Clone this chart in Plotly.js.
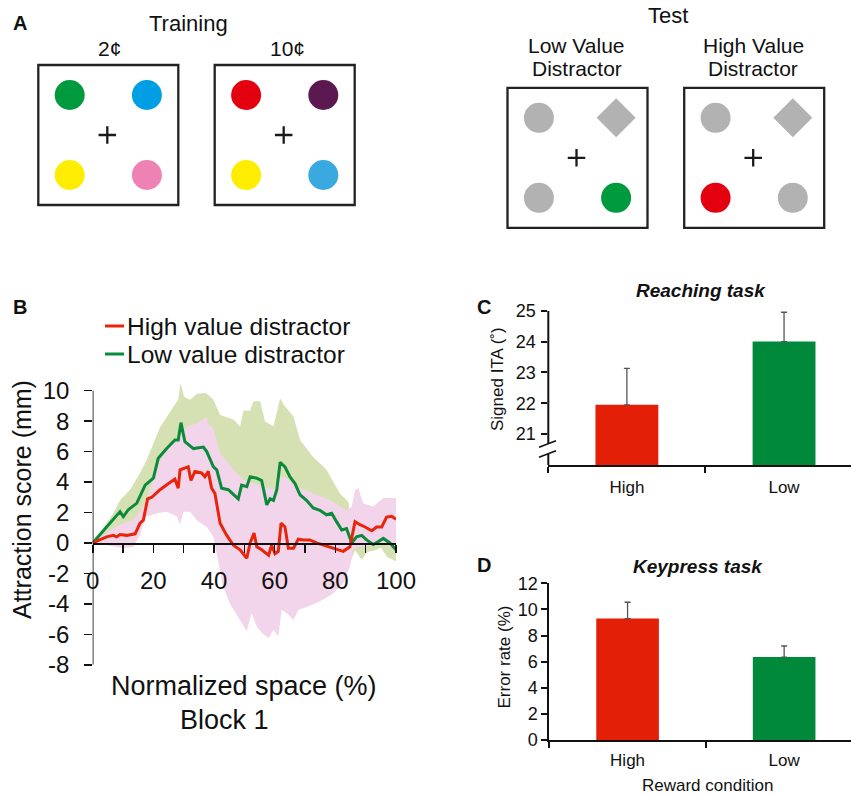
<!DOCTYPE html>
<html><head><meta charset="utf-8">
<script src="https://cdn.plot.ly/plotly-3.0.1.min.js"></script>
<style>html,body{margin:0;padding:0;background:#fff}#chart{width:851px;height:794px}</style>
</head><body><div id="chart"></div>
<script>
// ---------------- DATA ----------------
// Panel B: attraction score (mm) vs normalized space (%)
const highX = [0, 4.6, 6.8, 7.9, 9, 11.2, 14, 15.6, 16.7, 18.1, 19.5, 22.2, 25, 27.1, 28.2, 28.8, 31.5, 32.4, 33.7, 35.9, 37, 38.1, 39.2, 40.3, 42, 44.2, 46.4, 48.6, 50.8, 51.9, 53.2, 54.1, 55.7, 58, 59, 60.1, 61.2, 62.1, 63.4, 64.5, 66.2, 67.8, 69.5, 71.6, 73.8, 76, 78.2, 80.4, 82.6, 84.8, 86.5, 88.1, 89.8, 92, 93.6, 95.3, 96.9, 98.6, 100];
const highY = [0, 0.4, 0.5, 0.4, 0.55, 0.5, 0.6, 1.3, 1.5, 2.9, 3.0, 3.5, 3.9, 4.2, 3.6, 4.8, 5.0, 4.1, 4.7, 4.6, 4.35, 4.7, 3.6, 3.25, 1.3, 0.5, -0.15, -0.45, -1.0, 0, 0.65, -0.25, -0.45, -0.8, -0.15, -0.7, -0.55, 1.3, 1.05, -0.35, -0.35, 0.25, 0.2, 0.2, 0.0, -0.15, -0.25, -0.45, -0.55, -0.25, 1.4, 1.2, 1.05, 0.8, 1.05, 1.05, 1.7, 1.75, 1.55];
const lowX = [0, 9, 10.1, 11.8, 14.5, 17.3, 20, 21.6, 24.4, 27.1, 28.2, 29.1, 30.4, 33.2, 36.5, 37.6, 39.8, 40.9, 42.5, 44.7, 48, 49.1, 50.8, 51.9, 54.1, 55.7, 57.4, 58.5, 59.6, 60.7, 61.8, 63.4, 65, 66.7, 68.4, 70.5, 72.7, 74.9, 77.1, 78.8, 80.4, 82.1, 83.7, 85.4, 87, 88.7, 90.3, 92.5, 94.2, 95.8, 98, 100];
const lowY = [0, 2.06, 1.73, 2.2, 2.6, 3.8, 4.25, 5.56, 6.2, 6.76, 6.76, 7.9, 6.65, 6.2, 6.3, 6.0, 5.0, 4.8, 3.6, 3.5, 2.9, 3.8, 3.7, 4.35, 4.25, 4.1, 2.5, 2.9, 2.8, 3.5, 5.3, 5.0, 4.35, 3.9, 3.15, 2.8, 2.3, 2.15, 1.85, 1.95, 1.4, 0.85, 0.95, 0, 0.4, 0.5, 0.2, -0.1, 0.1, 0.3, 0, -0.45];
// Error bands
const lowUpX = [0, 6.8, 9, 12.3, 15.6, 17.8, 22.2, 24.4, 26.6, 28.2, 29, 30.1, 32.1, 34.3, 37.4, 39.8, 42, 46.4, 48.6, 49.7, 51.9, 53, 55.2, 56.8, 59.6, 61.8, 63.1, 66.2, 68.4, 72.7, 77.1, 81.5, 84.3, 84.6, 87, 91.4, 96.9, 100];
const lowUpY = [0, 1.95, 2.8, 3.5, 4.6, 5.45, 7.6, 8.3, 8.95, 9.4, 10.5, 9.6, 9.4, 9.8, 9.85, 9.4, 8.4, 8.1, 7.65, 8.7, 8.7, 9.3, 9.3, 8.0, 7.65, 9.5, 9.05, 8.3, 6.75, 5.65, 4.8, 3.25, 2.7, 2.15, 1.07, 0.9, 0.9, 0.9];
const lowLoX = [0, 5, 10, 15, 20, 25, 30, 35, 40, 45, 50, 55, 60, 65, 70, 75, 80, 85, 86.5, 88.7, 90.5, 93, 95, 97, 100];
const lowLoY = [0, 0.3, 0.8, 1.0, 2.5, 3.5, 4.5, 3.5, 2.0, 0.5, -0.5, 0, -0.5, 0.5, 0, -0.5, -0.8, -1.2, -0.5, -1.1, -0.6, -0.5, -0.3, -0.9, -1.2];
const highUpX = [0, 6.8, 10.1, 13.4, 16.7, 18.9, 22.2, 25.5, 28.8, 31, 34.3, 37.6, 38.1, 39.8, 42, 46.4, 49.7, 53, 56.3, 59.6, 61.8, 63.9, 67.3, 72.7, 78.2, 83.7, 85.4, 86.5, 87.6, 89.2, 92.5, 95.8, 100];
const highUpY = [0, 0.96, 1.3, 1.5, 2.4, 3.5, 5.45, 6.55, 7.0, 7.65, 7.85, 8.25, 7.85, 7.5, 5.9, 4.8, 4.15, 3.9, 3.7, 3.5, 4.35, 4.25, 3.7, 3.25, 2.8, 2.15, 2.4, 3.5, 3.6, 2.6, 2.4, 2.95, 2.95];
const highLoX = [0, 4.6, 10.1, 13.4, 15.6, 17.3, 21.1, 24.4, 27.7, 28.8, 29.9, 32.1, 34.3, 37.6, 39.8, 40.9, 43.1, 45.3, 48.6, 50.8, 52.4, 54.1, 55.7, 58, 59.6, 61.2, 62.3, 63.9, 66.2, 67.8, 70.5, 73.8, 77.1, 79.3, 82.6, 84.8, 85.9, 88.1, 92.5, 95.8, 97, 100];
const highLoY = [0, -0.13, -0.35, -0.25, 0.5, 1.7, 1.95, 2.05, 1.75, 1.2, 2.05, 2.05, 1.5, 1.05, 0.4, -0.7, -2.9, -4.0, -5.05, -5.8, -4.6, -5.5, -5.9, -6.25, -5.7, -6.15, -4.4, -4.6, -5.05, -4.4, -4.2, -3.95, -3.6, -3.3, -2.65, -1.55, -0.45, -0.25, -0.15, -0.1, -0.2, -0.3];
const bXTickVals = [0, 10, 20, 30, 40, 50, 60, 70, 80, 90, 100];
const bXTickText = ['0', '', '20', '', '40', '', '60', '', '80', '', '100'];
const bYTickVals = [10, 8, 6, 4, 2, 0, -2, -4, -6, -8];
const bYTickText = ['10', '8', '6', '4', '2', '0', '-2', '-4', '-6', '-8'];
const seriesNames = ['High value distractor', 'Low value distractor'];

// Panel C: reaching task
const conditions = ['High', 'Low'];
const reachITA = [21.95, 24.0];
const reachErr = [1.18, 0.95];
const reachTicks = [21, 22, 23, 24, 25];
// Panel D: keypress task
const keyErrorRate = [9.3, 6.35];
const keyErr = [1.25, 0.85];
const keyTicks = [0, 2, 4, 6, 8, 10, 12];

// Panel A: stimulus displays (TL, TR, BL, BR)
const displayLabels = ['2¢', '10¢', 'Low Value|Distractor', 'High Value|Distractor'];
const groupLabels = ['Training', 'Test'];
const stimColors = [
  ['#009a3e', '#009fe3', '#ffed00', '#ee82b4'],
  ['#e3000f', '#5c1951', '#ffed00', '#3aa9e0'],
  ['#b2b2b2', '#b2b2b2', '#b2b2b2', '#009a3e'],
  ['#b2b2b2', '#b2b2b2', '#e3000f', '#b2b2b2']
];
const stimSymbols = [
  ['circle', 'circle', 'circle', 'circle'],
  ['circle', 'circle', 'circle', 'circle'],
  ['circle', 'diamond', 'circle', 'circle'],
  ['circle', 'diamond', 'circle', 'circle']
];

// ---------------- LAYOUT HELPERS ----------------
const W = 851, H = 794;
const px = x => x / W, py = y => 1 - y / H;
const FONT = 'Liberation Sans, Arial, Helvetica, sans-serif';
const INK = '#111111';
const RED = '#e8250b', GREEN = '#0b8a3b';
const RED_BAR = '#e41f07', GREEN_BAR = '#00893a';
const PINK_BAND = '#f2d5ea', GREEN_BAND = '#d6e1b3';

const traces = [];
const shapes = [];
const annotations = [];

function ann(text, x, y, size, opts) {
  annotations.push(Object.assign({
    text: text, x: px(x), y: py(y), xref: 'paper', yref: 'paper',
    showarrow: false, xanchor: 'center', yanchor: 'middle',
    font: {family: FONT, size: size, color: INK}
  }, opts || {}));
}

// ---------- Panel A ----------
const boxCenters = [[108.3, 135], [284.7, 135], [577.5, 157.8], [754.2, 157.8]];
const quad = [[-38.6, -40], [38.6, -40], [-38.6, 40], [38.6, 40]];
const half = 70;
boxCenters.forEach((c, d) => {
  traces.push({
    type: 'scatter', mode: 'markers', xaxis: 'x4', yaxis: 'y4', showlegend: false, hoverinfo: 'skip',
    x: quad.map(q => c[0] + q[0]), y: quad.map(q => c[1] + q[1]),
    marker: {size: 30, color: stimColors[d], symbol: stimSymbols[d], line: {width: 0}}
  });
  shapes.push({type: 'rect', xref: 'x4', yref: 'y4', x0: c[0] - half, x1: c[0] + half, y0: c[1] - half, y1: c[1] + half,
    line: {color: '#222', width: 2.3}});
});
traces.push({
  type: 'scatter', mode: 'markers', xaxis: 'x4', yaxis: 'y4', showlegend: false, hoverinfo: 'skip',
  x: boxCenters.map(c => c[0] - 1), y: boxCenters.map(c => c[1]),
  marker: {size: 12.5, symbol: 'cross-thin-open', color: '#1a1a1a', line: {width: 2.3, color: '#1a1a1a'}}
});
ann(groupLabels[0], 188, 23, 22);
ann(groupLabels[1], 667.7, 15, 22);
ann(displayLabels[0], 110, 48, 21);
ann(displayLabels[1], 287, 48, 21);
[2, 3].forEach(d => {
  const parts = displayLabels[d].split('|');
  ann(parts[0], boxCenters[d][0] - 1, 45, 21);
  ann(parts[1], boxCenters[d][0] - 1, 69, 21);
});

// Panel letters
ann('<b>A</b>', 20, 23, 20);
ann('<b>B</b>', 20, 307, 20);
ann('<b>C</b>', 484, 307, 20);
ann('<b>D</b>', 484, 565, 20);

// ---------- Panel B ----------
traces.push({type: 'scatter', mode: 'lines', x: lowLoX, y: lowLoY, line: {width: 0, color: GREEN_BAND}, showlegend: false, hoverinfo: 'skip'});
traces.push({type: 'scatter', mode: 'lines', x: lowUpX, y: lowUpY, fill: 'tonexty', fillcolor: GREEN_BAND, line: {width: 0, color: GREEN_BAND}, showlegend: false, hoverinfo: 'skip'});
traces.push({type: 'scatter', mode: 'lines', x: highLoX, y: highLoY, line: {width: 0, color: PINK_BAND}, showlegend: false, hoverinfo: 'skip'});
traces.push({type: 'scatter', mode: 'lines', x: highUpX, y: highUpY, fill: 'tonexty', fillcolor: PINK_BAND, line: {width: 0, color: PINK_BAND}, showlegend: false, hoverinfo: 'skip'});
traces.push({type: 'scatter', mode: 'lines', name: seriesNames[1], x: lowX, y: lowY, line: {width: 3, color: GREEN}, showlegend: false});
traces.push({type: 'scatter', mode: 'lines', name: seriesNames[0], x: highX, y: highY, line: {width: 3, color: RED}, showlegend: false});

// y-axis line of B from -8 to 10
shapes.push({type: 'line', xref: 'x', yref: 'y', x0: 0, x1: 0, y0: bYTickVals[bYTickVals.length - 1], y1: bYTickVals[0], line: {color: INK, width: 1.6}});
// legend of B
[[seriesNames[0], RED, 326], [seriesNames[1], GREEN, 354]].forEach(e => {
  shapes.push({type: 'line', xref: 'paper', yref: 'paper', x0: px(105), x1: px(124), y0: py(e[2]), y1: py(e[2]), line: {color: e[1], width: 3}});
  ann(e[0], 125, e[2], 24.5, {xanchor: 'left'});
});
ann('Attraction score (mm)', 22, 500, 25, {textangle: -90});
ann('Normalized space (%)', 244, 686, 27);
ann('Block 1', 224, 720, 27);

// ---------- Panel C ----------
traces.push({
  type: 'bar', xaxis: 'x2', yaxis: 'y2', x: conditions, y: reachITA, width: 0.4, showlegend: false,
  marker: {color: [RED_BAR, GREEN_BAR], line: {width: 0}},
  error_y: {type: 'data', symmetric: false, array: reachErr, arrayminus: [0, 0], color: '#555', thickness: 1.3, width: 3}
});
// y-axis of C with break
shapes.push({type: 'line', xref: 'x2 domain', yref: 'y2', x0: 0, x1: 0, y0: 25, y1: 20.69, line: {color: INK, width: 2}});
shapes.push({type: 'line', xref: 'x2 domain', yref: 'y2', x0: 0, x1: 0, y0: 20.366, y1: 20, line: {color: INK, width: 2}});
shapes.push({type: 'line', xref: 'x2 domain', yref: 'y2', x0: -0.0307, x1: 0.0254, y0: 20.574, y1: 20.787, line: {color: INK, width: 1.6}});
shapes.push({type: 'line', xref: 'x2 domain', yref: 'y2', x0: -0.0307, x1: 0.0254, y0: 20.25, y1: 20.464, line: {color: INK, width: 1.6}});
ann('<b><i>Reaching task</i></b>', 700.8, 290, 19);
ann('Signed ITA (˚)', 498, 379, 17, {textangle: -90});

// ---------- Panel D ----------
traces.push({
  type: 'bar', xaxis: 'x3', yaxis: 'y3', x: conditions, y: keyErrorRate, width: 0.4, showlegend: false,
  marker: {color: [RED_BAR, GREEN_BAR], line: {width: 0}},
  error_y: {type: 'data', symmetric: false, array: keyErr, arrayminus: [0, 0], color: '#555', thickness: 1.3, width: 3}
});
ann('<b><i>Keypress task</i></b>', 698, 566, 19);
ann('Error rate (%)', 504, 657.5, 17, {textangle: -90});
ann('Reward condition', 707, 785, 17);

const baseAxis = {showgrid: false, zeroline: false, color: INK, tickcolor: INK, linecolor: INK, tickfont: {family: FONT, size: 18, color: INK}};

const layout = {
  width: W, height: H, margin: {l: 0, r: 0, t: 0, b: 0},
  paper_bgcolor: '#fff', plot_bgcolor: 'rgba(0,0,0,0)',
  font: {family: FONT, color: INK},
  showlegend: false,
  xaxis: Object.assign({}, baseAxis, {
    domain: [px(92.7), px(396)], range: [0, 100], anchor: 'free', position: py(543),
    showline: true, linewidth: 1.6, ticks: 'outside', ticklen: 8, tickwidth: 1.6,
    tickmode: 'array', tickvals: bXTickVals, ticktext: bXTickText, tickfont: {family: FONT, size: 24, color: INK},
    ticklabelstandoff: 8
  }),
  yaxis: Object.assign({}, baseAxis, {
    domain: [py(664.8), py(378.5)], range: [-8, 10.8], anchor: 'x',
    showline: false, ticks: 'outside', ticklen: 7.5, tickwidth: 1.6,
    tickmode: 'array', tickvals: bYTickVals, ticktext: bYTickText, tickfont: {family: FONT, size: 24, color: INK},
    ticklabelstandoff: 10
  }),
  xaxis2: Object.assign({}, baseAxis, {
    domain: [px(548.3), 1], range: [-0.5, 1.426], anchor: 'y2', type: 'category',
    showline: true, linewidth: 2, ticks: 'outside', tickson: 'boundaries', ticklen: 6, tickwidth: 2,
    tickfont: {family: FONT, size: 17, color: INK}, ticklabelstandoff: 6
  }),
  yaxis2: Object.assign({}, baseAxis, {
    domain: [py(465), py(310.7)], range: [20, 25], anchor: 'x2',
    showline: false, ticks: 'outside', ticklen: 6, tickwidth: 2,
    tickmode: 'array', tickvals: reachTicks, ticktext: reachTicks.map(String), ticklabelstandoff: 2
  }),
  xaxis3: Object.assign({}, baseAxis, {
    domain: [px(549.3), 1], range: [-0.5, 1.427], anchor: 'y3', type: 'category',
    showline: true, linewidth: 2, ticks: 'outside', tickson: 'boundaries', ticklen: 6, tickwidth: 2,
    tickfont: {family: FONT, size: 17, color: INK}, ticklabelstandoff: 4
  }),
  yaxis3: Object.assign({}, baseAxis, {
    domain: [py(740), py(583.3)], range: [0, 12], anchor: 'x3',
    showline: true, linewidth: 2, ticks: 'outside', ticklen: 6, tickwidth: 2,
    tickmode: 'array', tickvals: keyTicks, ticktext: keyTicks.map(String), ticklabelstandoff: 0
  }),
  xaxis4: {domain: [0, 1], range: [0, W], visible: false, fixedrange: true},
  yaxis4: {domain: [py(238), 1], range: [238, 0], visible: false, fixedrange: true, anchor: 'x4'},
  shapes: shapes,
  annotations: annotations
};

Plotly.newPlot('chart', traces, layout, {displayModeBar: false, staticPlot: true});
</script>
</body></html>
